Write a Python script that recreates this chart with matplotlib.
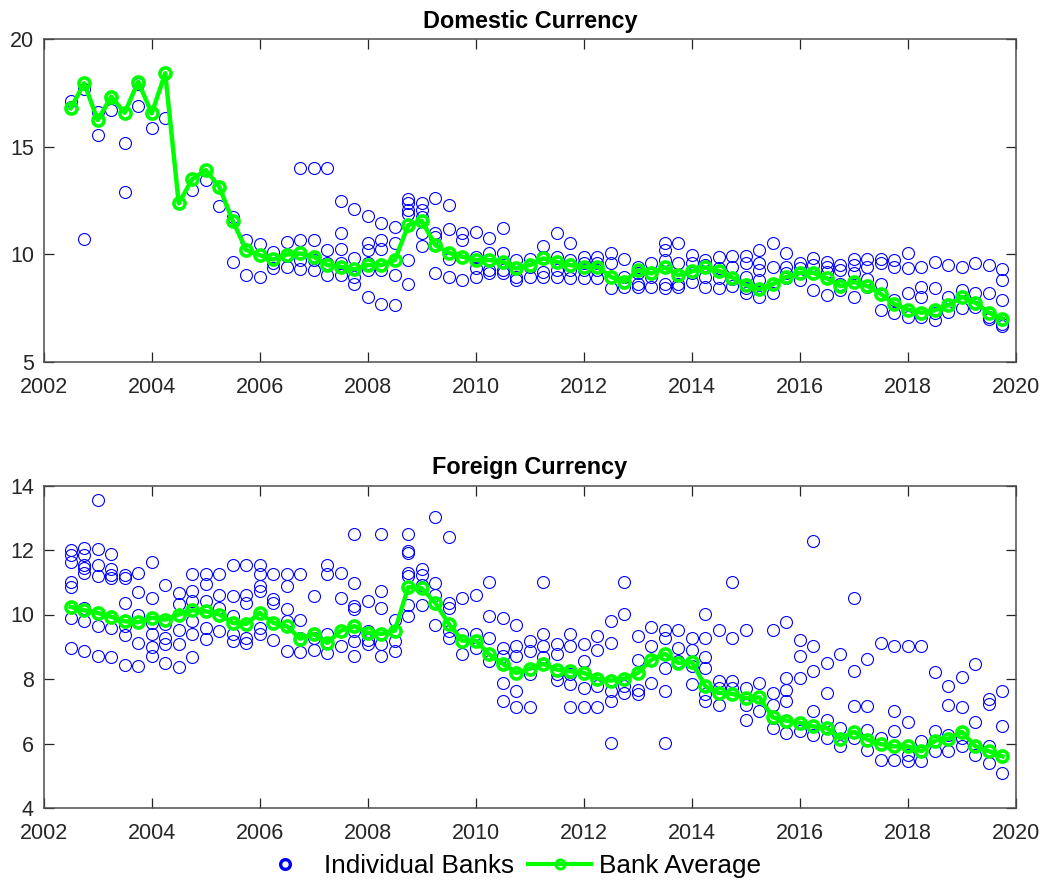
import matplotlib
matplotlib.use("Agg")
import matplotlib.pyplot as plt
from matplotlib.lines import Line2D

plt.rcParams["font.family"] = ["Liberation Sans", "DejaVu Sans"]

# Quarterly observation dates, 2002Q3 .. 2019Q4
quarters = [2002.5 + 0.25 * i for i in range(70)]

# Bank average (domestic currency)
dom_avg = [16.79, 17.95, 16.24, 17.33, 16.58, 18.03, 16.55, 18.42, 12.36, 13.49,
           13.91, 13.14, 11.55, 10.19, 9.95, 9.75, 9.98, 10.03, 9.88, 9.49,
           9.41, 9.29, 9.49, 9.49, 9.72, 11.35, 11.55, 10.42, 10.06, 9.88,
           9.72, 9.72, 9.64, 9.33, 9.49, 9.80, 9.64, 9.49, 9.41, 9.41,
           8.94, 8.71, 9.25, 9.10, 9.38, 9.02, 9.20, 9.38, 9.22, 8.91,
           8.56, 8.36, 8.60, 8.94, 9.13, 9.13, 8.87, 8.51, 8.71, 8.51,
           8.14, 7.67, 7.42, 7.27, 7.39, 7.62, 8.01, 7.73, 7.27, 7.00]

# Bank average (foreign currency)
for_avg = [10.24, 10.13, 10.05, 9.93, 9.79, 9.76, 9.90, 9.84, 10.00, 10.13,
           10.10, 10.00, 9.74, 9.71, 10.05, 9.74, 9.64, 9.25, 9.40, 9.12,
           9.50, 9.64, 9.43, 9.40, 9.50, 10.85, 10.81, 10.36, 9.71, 9.19,
           9.19, 8.76, 8.47, 8.19, 8.32, 8.47, 8.29, 8.24, 8.19, 8.01,
           7.95, 8.01, 8.19, 8.60, 8.78, 8.50, 8.53, 7.77, 7.57, 7.54,
           7.41, 7.43, 6.81, 6.71, 6.64, 6.53, 6.48, 6.15, 6.36, 6.12,
           5.98, 5.91, 5.91, 5.76, 6.09, 6.15, 6.36, 5.91, 5.76, 5.60]

# Individual bank rates per quarter (domestic currency)
dom_banks = [
    [17.14, 16.85], [17.67, 10.68], [15.54, 16.60], [16.71], [15.19, 12.87],
    [16.89, 17.90], [15.89], [16.32], [12.36], [12.98],
    [13.45], [12.24], [11.71, 9.64], [10.65, 9.02], [10.47, 8.94],
    [10.11, 9.33, 9.60], [10.57, 9.38, 9.90], [13.99, 10.65, 9.29, 9.72],
    [13.99, 10.65, 9.25, 9.72], [13.99, 10.19, 9.57, 9.02],
    [12.48, 10.96, 10.26, 9.57, 9.02], [12.08, 9.80, 8.94, 8.63],
    [11.77, 10.50, 10.19, 9.57, 9.25, 8.01], [11.43, 10.65, 10.26, 9.25, 7.67],
    [11.24, 10.50, 9.02, 7.62], [12.55, 12.36, 12.05, 11.86, 9.72, 8.63],
    [12.36, 12.05, 11.74, 10.96, 10.37], [12.59, 10.96, 10.81, 9.10],
    [12.28, 11.15, 9.75, 8.94], [10.99, 10.65, 8.79],
    [11.04, 9.88, 9.33, 8.94], [10.73, 10.03, 9.25, 9.10],
    [11.20, 10.06, 9.25, 9.10], [9.72, 8.94, 8.79],
    [9.75, 9.41, 8.94], [10.37, 9.88, 9.18, 8.94],
    [10.99, 9.88, 9.25, 8.94], [10.53, 9.72, 9.25, 8.87],
    [9.88, 9.57, 9.25, 8.87], [9.88, 9.57, 9.25, 8.87],
    [10.03, 9.57, 8.94, 8.40], [9.75, 8.94, 8.48],
    [9.41, 9.10, 8.63, 8.48], [9.57, 8.94, 8.48],
    [10.50, 10.19, 9.72, 8.63, 8.40], [10.53, 9.57, 8.63, 8.48],
    [9.95, 9.57, 9.10, 8.71], [9.72, 9.49, 8.94, 8.48],
    [9.88, 9.33, 8.87, 8.40], [9.91, 9.41, 8.82, 8.51],
    [9.91, 9.57, 8.94, 8.40, 8.17], [10.19, 9.57, 9.25, 8.79, 8.01],
    [10.50, 9.41, 8.63, 8.17], [10.03, 9.38, 9.13, 8.87],
    [9.57, 9.33, 9.10, 8.79], [9.80, 9.49, 8.32],
    [9.64, 9.41, 9.18, 8.09], [9.49, 9.25, 8.63, 8.32],
    [9.75, 9.49, 9.10, 8.01], [9.75, 9.41, 8.82, 8.48],
    [9.75, 9.57, 8.63, 7.42], [9.72, 9.41, 7.86, 7.24],
    [10.03, 9.33, 8.17, 7.08], [9.38, 8.48, 8.01, 7.08],
    [9.64, 8.40, 7.24, 6.93], [9.49, 8.01, 7.31],
    [9.38, 8.32, 7.47], [9.60, 8.17, 7.55],
    [9.49, 8.17, 7.08, 6.96], [9.29, 8.79, 7.86, 6.75, 6.65],
]

# Individual bank rates per quarter (foreign currency)
for_banks = [
    [11.99, 11.83, 11.64, 11.01, 10.85, 9.90, 8.96],
    [12.05, 11.86, 11.55, 11.45, 11.29, 10.21, 9.79, 8.88],
    [13.55, 12.02, 11.55, 11.19, 9.64, 8.71],
    [11.89, 11.42, 11.24, 11.14, 9.59, 8.67],
    [11.24, 11.14, 10.36, 9.64, 9.35, 8.43],
    [11.29, 10.69, 10.00, 9.12, 8.40],
    [11.64, 10.52, 9.74, 9.38, 8.99, 8.71],
    [10.90, 9.69, 9.28, 9.07, 8.50],
    [10.67, 10.33, 9.53, 9.09, 8.37],
    [11.26, 10.72, 10.41, 9.79, 9.38, 8.67],
    [11.26, 10.95, 10.41, 9.59, 9.25],
    [11.26, 10.60, 10.21, 9.48],
    [11.53, 10.57, 9.95, 9.38, 9.17],
    [11.53, 10.60, 10.36, 9.28, 9.12],
    [11.55, 11.26, 10.88, 10.72, 9.59, 9.38],
    [11.26, 10.47, 10.36, 9.22],
    [11.26, 10.88, 10.16, 9.81, 8.86],
    [11.26, 9.84, 9.28, 8.83],
    [10.57, 9.28, 8.91],
    [11.53, 11.26, 9.38, 9.12, 8.81],
    [11.29, 10.52, 9.48, 9.02],
    [12.51, 10.98, 10.26, 10.16, 9.48, 9.17, 8.71],
    [10.41, 9.48, 9.22, 9.07],
    [12.51, 10.72, 10.21, 9.07, 8.71],
    [9.84, 9.17, 8.86],
    [12.51, 11.97, 11.92, 11.29, 11.19, 10.31, 9.95],
    [11.40, 11.24, 10.93, 10.31],
    [13.02, 10.98, 10.62, 9.67],
    [12.40, 10.36, 10.21, 9.48, 9.28],
    [10.52, 9.38, 8.76],
    [10.62, 9.38, 8.96],
    [11.01, 9.95, 9.28, 8.55],
    [9.90, 8.96, 8.71, 7.88, 7.33],
    [9.67, 9.02, 8.71, 7.64, 7.12],
    [9.17, 8.86, 8.14, 7.12],
    [11.01, 9.38, 9.02, 8.67],
    [9.07, 8.76, 8.14, 7.98],
    [9.40, 9.02, 8.14, 7.83, 7.12],
    [9.07, 8.55, 7.72, 7.12],
    [9.33, 8.91, 7.77, 7.12],
    [9.81, 9.12, 7.62, 7.33, 6.01],
    [11.01, 10.02, 7.77, 7.57],
    [9.33, 8.60, 7.67, 7.52],
    [9.61, 9.02, 7.88],
    [9.53, 9.28, 8.34, 7.64, 6.01],
    [9.53, 8.96, 8.55],
    [9.28, 8.91, 8.40, 7.83],
    [10.02, 9.28, 8.67, 8.34, 7.52, 7.31],
    [9.53, 7.93, 7.72, 7.20],
    [11.01, 9.28, 7.93, 7.72],
    [9.53, 7.72, 7.20, 6.74],
    [7.88, 7.02],
    [9.53, 7.57, 7.20, 6.79, 6.48],
    [9.77, 8.03, 7.67, 7.31, 6.33],
    [9.22, 8.71, 8.03, 6.38],
    [12.28, 9.02, 8.26, 7.00, 6.27],
    [8.50, 7.57, 6.74, 6.17],
    [8.76, 6.48, 5.91],
    [10.52, 8.24, 7.15, 6.17],
    [8.63, 7.15, 6.43, 5.81],
    [9.12, 6.17, 5.50],
    [9.02, 7.02, 6.38, 5.50],
    [9.02, 6.67, 5.65, 5.45],
    [9.02, 6.07, 5.45],
    [8.22, 6.38, 5.76],
    [7.77, 7.20, 6.27, 5.76],
    [8.05, 7.12, 6.17, 5.91],
    [8.47, 6.67, 5.65],
    [7.39, 7.23, 5.91, 5.39],
    [7.64, 6.53, 5.08],
]

x_ticks = [2002, 2004, 2006, 2008, 2010, 2012, 2014, 2016, 2018, 2020]
dom_yticks = [5, 10, 15, 20]
for_yticks = [4, 6, 8, 10, 12, 14]

BLUE = "#0000FF"
GREEN = "#00FF00"
AXIS_GRAY = "#262626"

W, H = 1047, 884
fig = plt.figure(figsize=(W / 100, H / 100), dpi=100)


def panel(rect, banks, avg, yticks, title):
    ax = fig.add_axes(rect)
    bx = [q for q, vals in zip(quarters, banks) for _ in vals]
    by = [v for vals in banks for v in vals]
    ax.plot(bx, by, ls="none", marker="o", ms=8.6, mfc="none",
            mec=BLUE, mew=0.8, zorder=2)
    ax.plot(quarters, avg, color=GREEN, lw=3.2, marker="o", ms=8.0,
            mfc="none", mec=GREEN, mew=2.6, zorder=3)
    ax.set_xlim(x_ticks[0], x_ticks[-1])
    ax.set_ylim(yticks[0], yticks[-1])
    ax.set_xticks(x_ticks)
    ax.set_yticks(yticks)
    ax.tick_params(direction="in", length=7, width=0.9, color=AXIS_GRAY,
                   labelsize=15.5, labelcolor=AXIS_GRAY, top=True, right=True)
    ax.tick_params(axis="x", pad=11)
    ax.tick_params(axis="y", pad=7)
    for sp in ax.spines.values():
        sp.set_color("#4d4d4d")
        sp.set_linewidth(1.1)
    ax.set_title(title, fontsize=16.8, fontweight="bold", pad=8)
    return ax


panel([43.7 / W, 1 - 361.5 / H, (1016 - 43.7) / W, (361.5 - 39.3) / H],
      dom_banks, dom_avg, dom_yticks, "Domestic Currency")
panel([43.7 / W, 1 - 808 / H, (1016 - 43.7) / W, (808 - 485.5) / H],
      for_banks, for_avg, for_yticks, "Foreign Currency")

handles = [
    Line2D([], [], ls="none", marker="o", ms=7.0, mfc="none", mec=BLUE, mew=2.4),
    Line2D([], [], color=GREEN, lw=3.0, marker="o", ms=6.5, mfc="none",
           mec=GREEN, mew=2.2),
]
fig.legend(handles, ["Individual Banks", "Bank Average"], loc="center",
           bbox_to_anchor=(507 / W, 1 - 866 / H), ncol=2, frameon=False,
           fontsize=18.8, handlelength=2.4, handletextpad=0.3,
           columnspacing=0.55, borderpad=0, borderaxespad=0)

fig.savefig("out.png", dpi=100)
